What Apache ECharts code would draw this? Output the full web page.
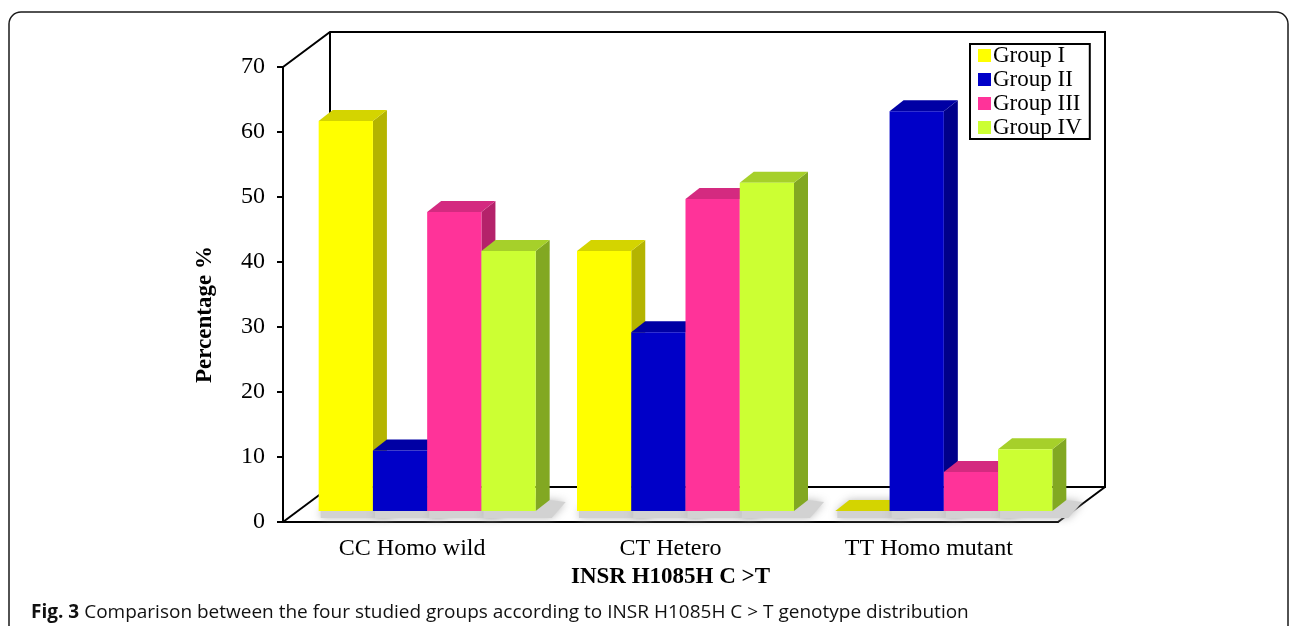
<!DOCTYPE html>
<html>
<head>
<meta charset="utf-8">
<script src="https://cdn.jsdelivr.net/npm/echarts@6/dist/echarts.min.js"></script>
<style>
  html, body { margin: 0; padding: 0; background: #fff; }
  #chart { width: 1292px; height: 626px; }
</style>
</head>
<body>
<div id="chart"></div>
<script>
// data
var categories = ['CC Homo wild', 'CT Hetero', 'TT Homo mutant'];
var groupNames = ['Group I', 'Group II', 'Group III', 'Group IV'];
var groupI = [60, 40, 0];
var groupII = [9.3, 27.5, 61.5];
var groupIII = [46, 48, 6];
var groupIV = [40, 50.5, 9.5];
var yMin = 0, yMax = 70, yStep = 10;

var groupValues = [groupI, groupII, groupIII, groupIV];
// front / top / side colours for the pseudo 3D boxes
var faceColors = [
    { front: '#ffff00', top: '#d4d400', side: '#b4b400' },
    { front: '#0000c8', top: '#0000a4', side: '#00008a' },
    { front: '#ff3399', top: '#d42a80', side: '#b4226a' },
    { front: '#ccff33', top: '#a6d02a', side: '#82a822' }
];

// depth of the box (whole floor) and of each bar
var DX = 47, DY = -35;
var OX = 15, OY = -11;   // bar front plane, pushed back from the axis plane
var BX = 14, BY = -11;   // bar depth
var BAR_RATIO = 0.21;

var myChart = echarts.init(document.getElementById('chart'));

function barGeom(api, idx) {
    var cat = api.value(0), val = api.value(1);
    var base = api.coord([cat, 0]);
    var top = api.coord([cat, val]);
    var bw = api.size([1, 0])[0] * BAR_RATIO;
    var x0 = base[0] - 2 * bw + idx * bw + OX;
    return { x0: x0, bw: bw, y0: base[1] + OY, y1: top[1] + OY };
}

function renderFrame(params, api) {
    var cs = params.coordSys;
    var x = cs.x, y = cs.y, w = cs.width, h = cs.height;
    var line = { stroke: '#000', lineWidth: 2, fill: null };
    return {
        type: 'group',
        children: [
            { type: 'polyline', shape: { points: [[x, y], [x + DX, y + DY], [x + w + DX, y + DY], [x + w + DX, y + h + DY], [x + DX, y + h + DY], [x + DX, y + DY]] }, style: line },
            { type: 'line', shape: { x1: x, y1: y + h, x2: x + DX, y2: y + h + DY }, style: line },
            { type: 'line', shape: { x1: x + w, y1: y + h, x2: x + w + DX, y2: y + h + DY }, style: line }
        ]
    };
}

function makeShadowRender(idx) {
    return function (params, api) {
        var g = barGeom(api, idx);
        var x0 = g.x0, bw = g.bw, y0 = g.y0;
        return {
            type: 'polygon',
            shape: { points: [[x0 + 2, y0], [x0 + BX, y0 + BY], [x0 + bw + BX, y0 + BY], [x0 + bw + BX + 16, y0 + BY + 2], [x0 + bw + 16, y0 + 7], [x0 + 2, y0 + 7]] },
            style: { fill: '#d2d2d2', shadowBlur: 8, shadowColor: 'rgba(170,170,170,0.8)' }
        };
    };
}

function makeBarRender(idx) {
    var c = faceColors[idx];
    return function (params, api) {
        var g = barGeom(api, idx);
        var x0 = g.x0, bw = g.bw, y0 = g.y0, y1 = g.y1;
        return {
            type: 'group',
            children: [
                { type: 'polygon', shape: { points: [[x0 + bw, y1], [x0 + bw + BX, y1 + BY], [x0 + bw + BX, y0 + BY], [x0 + bw, y0]] },
                  style: { fill: c.side } },
                { type: 'polygon', shape: { points: [[x0, y1], [x0 + BX, y1 + BY], [x0 + bw + BX, y1 + BY], [x0 + bw, y1]] },
                  style: { fill: c.top } },
                { type: 'rect', shape: { x: x0, y: y1, width: bw, height: y0 - y1 },
                  style: { fill: c.front } }
            ]
        };
    };
}

var serif = 'Liberation Serif';
var series = [{
    type: 'custom',
    renderItem: renderFrame,
    data: [[0, 0]],
    silent: true,
    z: 1
}];
groupValues.forEach(function (vals, i) {
    series.push({
        type: 'custom',
        renderItem: makeShadowRender(i),
        data: vals.map(function (v, j) { return [j, v]; }),
        silent: true,
        z: 2
    });
});
groupValues.forEach(function (vals, i) {
    series.push({
        name: groupNames[i],
        type: 'custom',
        renderItem: makeBarRender(i),
        itemStyle: { color: faceColors[i].front },
        data: vals.map(function (v, j) { return [j, v]; }),
        z: 3
    });
});

var option = {
    backgroundColor: '#fff',
    animation: false,
    title: {
        left: 26,
        top: 598,
        text: '{b|Fig. 3} {n|Comparison between the four studied groups according to INSR H1085H C > T genotype distribution}',
        textStyle: {
            fontWeight: 'normal',
            rich: {
                b: { fontFamily: 'Open Sans', fontWeight: 'bold', fontSize: 19, color: '#111' },
                n: { fontFamily: 'Open Sans', fontWeight: 'normal', fontSize: 19, color: '#111' }
            }
        }
    },
    graphic: [{
        type: 'rect',
        shape: { x: 9, y: 12, width: 1279, height: 700, r: 12 },
        style: { fill: null, stroke: '#1a1a1a', lineWidth: 1.5 },
        silent: true,
        z: -1
    }],
    legend: {
        data: groupNames,
        orient: 'vertical',
        left: 970,
        top: 44,
        itemWidth: 13,
        itemHeight: 13,
        itemGap: 1,
        padding: [0, 8, 0, 8],
        borderColor: '#000',
        borderWidth: 2,
        icon: 'rect',
        textStyle: { fontFamily: serif, fontSize: 23, color: '#000', padding: [0, 0, 0, -3] }
    },
    grid: {
        left: 283,
        top: 67,
        width: 775,
        height: 455
    },
    xAxis: {
        type: 'category',
        data: categories,
        axisLine: { lineStyle: { color: '#000', width: 2 } },
        axisTick: { length: 6, lineStyle: { color: '#000', width: 2 } },
        axisLabel: { fontFamily: serif, fontSize: 24, color: '#000', margin: 15 },
        name: 'INSR H1085H C >T',
        nameLocation: 'middle',
        nameGap: 43,
        nameTextStyle: { fontFamily: serif, fontSize: 23, fontWeight: 'bold', color: '#000' }
    },
    yAxis: {
        type: 'value',
        min: yMin,
        max: yMax,
        interval: yStep,
        axisLine: { show: true, lineStyle: { color: '#000', width: 2 } },
        axisTick: { show: true, length: 6, lineStyle: { color: '#000', width: 2 } },
        axisLabel: { fontFamily: serif, fontSize: 24, color: '#000', margin: 18 },
        splitLine: { show: false },
        name: 'Percentage %',
        nameLocation: 'middle',
        nameRotate: 90,
        nameGap: 66,
        nameTextStyle: { fontFamily: serif, fontSize: 23, fontWeight: 'bold', color: '#000', padding: [0, 40, 0, 0] }
    },
    series: series
};
myChart.setOption(option);
</script>
</body>
</html>
